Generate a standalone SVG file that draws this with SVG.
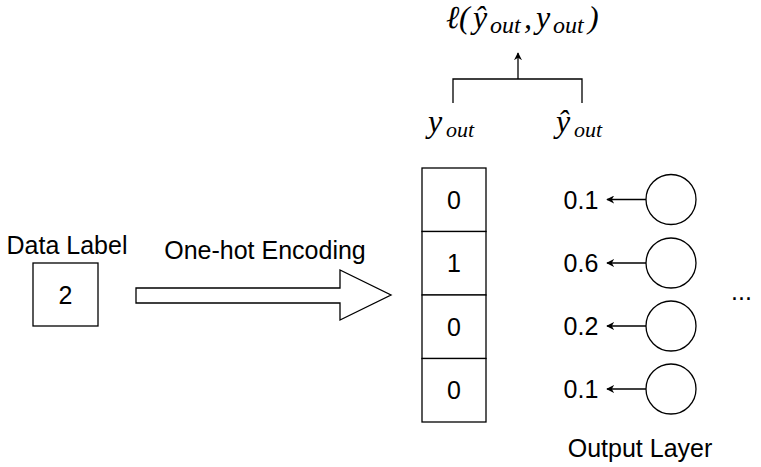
<svg xmlns="http://www.w3.org/2000/svg" width="761" height="467" viewBox="0 0 761 467">
  <defs>
    <style>
      .box { fill: #ffffff; stroke: #000000; stroke-width: 1.3; }
      .line { fill: none; stroke: #000000; stroke-width: 1.3; }
      .label { font-family: "Liberation Sans", Arial, sans-serif; font-size: 25px; fill: #000000; }
      .math { font-family: "Liberation Serif", "Times New Roman", serif; font-style: italic; fill: #000000; }
      .sub { font-size: 22px; }
      .sub-lg { font-size: 24px; }
    </style>
    <marker id="arrowhead" viewBox="0 0 10 10" refX="9" refY="5" markerWidth="8" markerHeight="8" markerUnits="userSpaceOnUse" orient="auto">
      <path d="M0,0 L10,5 L0,10 L3,5 Z" fill="#000000"/>
    </marker>
  </defs>

  <!-- input label -->
  <g id="data-label">
    <text class="label" x="67" y="254" text-anchor="middle">Data Label</text>
    <rect class="box" x="33" y="263" width="65" height="63"/>
    <text class="label" x="65.5" y="303.5" text-anchor="middle">2</text>
  </g>

  <!-- encoding arrow -->
  <g id="encoding">
    <text class="label" x="265" y="259" text-anchor="middle">One-hot Encoding</text>
    <path class="box" d="M136,288 L340,288 L340,270 L391,295 L340,320 L340,303 L136,303 Z"/>
  </g>

  <!-- one-hot vector -->
  <g id="one-hot-vector">
    <rect class="box" x="422" y="168" width="64" height="63.5"/>
    <rect class="box" x="422" y="231.5" width="64" height="63.5"/>
    <rect class="box" x="422" y="295" width="64" height="63.5"/>
    <rect class="box" x="422" y="358.5" width="64" height="63.5"/>
    <text class="label" x="454" y="209" text-anchor="middle">0</text>
    <text class="label" x="454" y="272" text-anchor="middle">1</text>
    <text class="label" x="454" y="336" text-anchor="middle">0</text>
    <text class="label" x="454" y="399" text-anchor="middle">0</text>
  </g>

  <!-- output neurons -->
  <g id="neuron-1">
    <circle class="box" cx="671" cy="199.5" r="25"/>
    <text class="label" x="581" y="208.5" text-anchor="middle">0.1</text>
  </g>
  <g id="neuron-2">
    <circle class="box" cx="671" cy="263" r="25"/>
    <text class="label" x="581" y="272" text-anchor="middle">0.6</text>
  </g>
  <g id="neuron-3">
    <circle class="box" cx="671" cy="326" r="25"/>
    <text class="label" x="581" y="335" text-anchor="middle">0.2</text>
  </g>
  <g id="neuron-4">
    <circle class="box" cx="671" cy="389" r="25"/>
    <text class="label" x="581" y="398" text-anchor="middle">0.1</text>
  </g>
  <g id="ellipsis">
    <text class="label" x="731" y="300">...</text>
  </g>
  <g id="output-layer-label">
    <text class="label" x="640" y="457" text-anchor="middle">Output Layer</text>
  </g>

  <!-- target and prediction labels -->
  <g id="y-out">
    <text class="math" x="428" y="132" font-size="32">y<tspan class="sub" x="446" y="137">out</tspan></text>
  </g>
  <g id="y-hat-out">
    <text class="math" x="556" y="132" font-size="32">ŷ<tspan class="sub" x="574" y="137">out</tspan></text>
  </g>
  <g id="loss">
    <text class="math" x="446" y="28" font-size="32">ℓ<tspan x="459">(</tspan><tspan x="473">ŷ</tspan><tspan class="sub-lg" x="490" y="33">out</tspan><tspan x="524" y="28">,</tspan><tspan x="536">y</tspan><tspan class="sub-lg" x="553" y="33">out</tspan><tspan x="588" y="28">)</tspan></text>
  </g>

  <!-- connectors -->
  <g id="connectors">
    <line class="line" x1="646" y1="199.5" x2="607" y2="199.5" marker-end="url(#arrowhead)"/>
    <line class="line" x1="646" y1="263" x2="607" y2="263" marker-end="url(#arrowhead)"/>
    <line class="line" x1="646" y1="326" x2="607" y2="326" marker-end="url(#arrowhead)"/>
    <line class="line" x1="646" y1="389" x2="607" y2="389" marker-end="url(#arrowhead)"/>
    <path class="line" d="M453,103 L453,79 L582,79 L582,103"/>
    <line class="line" x1="518" y1="79" x2="518" y2="53" marker-end="url(#arrowhead)"/>
  </g>
</svg>
